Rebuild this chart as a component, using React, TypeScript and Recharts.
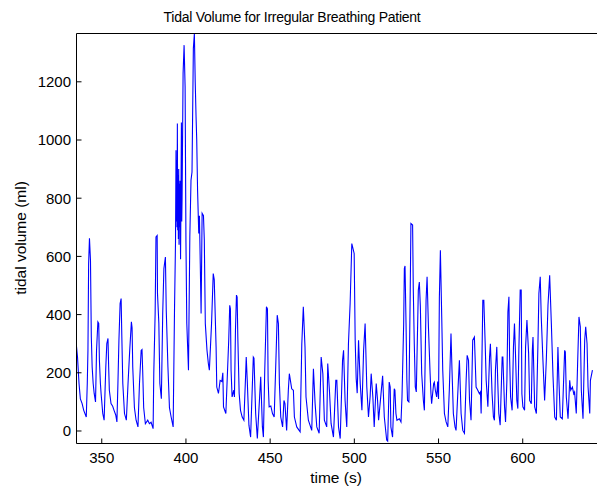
import React from 'react';
import { LineChart, Line, XAxis, YAxis, Label } from 'recharts';

// [time (s), tidal volume (ml)], split into stretches
const calmStart: [number, number][] = [
  [335.0, 290], [335.6, 254], [336.5, 163], [337.3, 110], [338.3, 95], [339.3, 71], [340.8, 48],
  [341.4, 163], [341.8, 277], [342.2, 575], [342.7, 662], [343.3, 587], [343.8, 323], [344.3, 220],
  [344.9, 163], [345.5, 129], [346.3, 100], [346.9, 277], [347.7, 375], [348.2, 370], [348.6, 243],
  [349.2, 163], [349.6, 129], [350.6, 60], [351.4, 37], [352.4, 220], [353.0, 300], [353.7, 318],
  [354.1, 220], [354.5, 140], [355.5, 94], [356.5, 85], [357.3, 71], [358.3, 55], [359.0, 31],
  [359.6, 163], [360.2, 312], [360.9, 438], [361.5, 455], [361.9, 330], [362.5, 163], [363.5, 60],
  [364.6, 37], [365.6, 163], [366.6, 277], [367.6, 375], [368.0, 355], [368.4, 220], [369.4, 80],
  [370.4, 37], [371.5, 14], [372.4, 163], [373.4, 277], [373.9, 280], [374.3, 209], [374.9, 80],
  [375.9, 25], [377.3, 37], [378.3, 25], [379.3, 30], [380.5, 8], [380.9, 200], [381.7, 404],
  [382.2, 667], [382.9, 672], [383.1, 472], [383.9, 370], [384.5, 163], [385.4, 111], [386.2, 404],
  [386.9, 558], [387.8, 598], [388.3, 415], [389.3, 220], [390.2, 80], [391.2, 48], [392.4, 14],
  [393.2, 415], [393.8, 650],
];

const burst: [number, number][] = [
  [394.1, 965], [394.3, 720], [394.5, 930], [394.7, 700], [394.9, 1057], [395.1, 690], [395.3, 880],
  [395.5, 660], [395.7, 900], [395.9, 640], [396.1, 850], [396.3, 700], [396.5, 860], [396.8, 590],
  [397.0, 760], [397.3, 1060], [397.5, 720], [397.7, 800], [398.3, 1229], [398.9, 1326], [399.5, 1183],
  [400.0, 650], [400.5, 370], [401.0, 290], [401.5, 209], [402.3, 667], [403.0, 862], [403.6, 890],
  [404.4, 1315], [405.0, 1366], [405.5, 1200], [406.0, 1080], [406.4, 1000], [406.9, 828],
  [407.6, 679], [408.0, 740], [408.5, 576], [409.0, 404], [409.6, 748], [410.4, 740], [410.9, 656],
  [411.5, 369], [412.5, 277], [413.3, 232], [413.9, 209], [415.2, 369], [416.2, 541], [416.8, 520],
  [417.9, 289], [418.3, 151], [419.3, 129], [420.3, 174], [421.3, 170], [421.9, 200], [422.3, 83],
  [423.7, 60],
];

const recovery: [number, number][] = [
  [424.4, 164], [425.4, 312], [426.0, 432], [426.4, 420], [426.8, 209], [427.4, 117], [428.4, 140],
  [428.8, 117], [429.4, 346], [430.0, 467], [430.4, 460], [430.8, 323], [431.6, 129], [432.4, 71],
  [433.4, 48], [434.4, 37], [435.4, 186], [435.8, 254], [436.4, 174], [437.4, 20], [438.4, -21],
  [440.0, 254], [440.4, 250], [441.4, 60], [442.4, -26], [444.4, 186], [445.4, 14], [446.0, -21],
  [446.8, 209], [447.8, 427], [448.4, 420], [448.8, 174], [449.4, 83], [450.4, 86], [451.4, 60],
  [452.4, 48], [453.6, 277], [454.2, 398], [454.9, 369], [455.5, 163], [456.3, 48], [457.4, 14],
  [458.2, 105], [458.8, 94], [459.8, 2], [460.8, 140], [461.4, 197], [462.8, 145], [463.8, 140],
  [464.4, 48], [465.8, 14], [467.8, -3], [468.8, 300], [469.7, 427], [470.7, 289], [471.3, 117],
  [472.7, 37], [474.7, 2], [475.7, 214], [476.7, 94], [477.7, 14], [479.1, -8], [480.3, 254],
  [481.3, 197], [482.2, 37], [483.6, 14], [484.2, 232], [485.2, 140], [486.2, 25], [487.6, -21],
  [489.0, 174], [489.6, 174], [490.6, 14], [491.6, -26], [493.0, 243], [493.6, 277], [494.5, 105],
  [495.5, 14],
];

const middle: [number, number][] = [
  [496.5, 300], [497.5, 438], [498.5, 644], [499.9, 610], [500.5, 312], [501.1, 180], [501.7, 130],
  [502.5, 312], [503.5, 163], [504.5, 71], [505.5, 277], [506.4, 369], [507.4, 151], [508.4, 48],
  [509.4, 120], [510.0, 197], [511.0, 117], [511.8, 14], [513.0, 163], [513.8, 105], [514.4, 37],
  [515.4, 100], [516.8, 190], [517.8, 48], [519.2, -31], [519.8, -35], [520.7, 168], [521.3, 151],
  [521.7, 14], [522.7, -21], [523.7, 145], [524.1, 140], [524.7, 60], [525.3, 37], [526.7, 42],
  [527.7, 31], [528.3, 117], [529.3, 369], [529.7, 558], [530.1, 567], [530.7, 369], [531.2, 174],
  [531.6, 105], [532.4, 100], [533.2, 484], [533.6, 713], [534.6, 708], [535.0, 490], [535.6, 300],
  [536.2, 151], [536.8, 134], [538.0, 484], [538.6, 512], [539.2, 430], [540.0, 197], [541.0, 105],
  [541.6, 71], [542.6, 449], [543.2, 530], [544.0, 358], [545.0, 197], [545.5, 128], [545.9, 94],
  [547.1, 163], [547.5, 168], [548.1, 140], [548.9, 117], [549.5, 170], [550.0, 110],
];

const lateStretch: [number, number][] = [
  [550.5, 459], [551.1, 621], [551.9, 392], [552.5, 209], [553.5, 60], [554.5, 31], [555.5, 14],
  [556.4, 140], [557.4, 335], [558.0, 209], [558.8, 60], [559.8, 14], [560.4, 2], [561.8, 174],
  [562.4, 243], [563.4, 60], [564.4, 2], [565.4, -8], [566.4, 174], [567.0, 260], [567.8, 243],
  [568.4, 105], [569.3, 37], [570.3, 312], [571.3, 323], [572.3, 151], [573.3, 140], [574.3, 128],
  [574.9, 134], [575.3, 60], [576.3, 449], [576.9, 449], [577.7, 300], [578.3, 174], [579.3, 83],
  [580.3, 254], [580.8, 300], [581.8, 128], [582.6, 48], [583.2, 37], [583.8, 209], [584.6, 289],
  [585.2, 163], [585.8, 60], [586.6, 20], [587.8, 254], [588.2, 254], [589.2, 83], [589.8, 31],
  [590.6, 174], [591.2, 409], [591.8, 461], [592.2, 254], [592.8, 117], [593.7, 71], [594.5, 289],
  [595.1, 369], [595.7, 266], [596.5, 105], [597.1, 77],
];

const finalStretch: [number, number][] = [
  [597.7, 277], [598.5, 484], [599.1, 484], [599.5, 128], [600.1, 83], [601.1, 71], [601.7, 289],
  [602.5, 381], [603.5, 266], [604.1, 105], [605.1, 94], [605.7, 277], [606.1, 323], [607.1, 83],
  [608.1, 60], [609.0, 289], [609.6, 472], [610.4, 530], [611.0, 392], [612.0, 243], [613.0, 105],
  [614.0, 243], [615.0, 432], [616.0, 535], [617.0, 369], [618.0, 186], [619.0, 48], [620.0, 37],
  [620.9, 289], [621.5, 174], [622.3, 48], [623.5, 42], [624.9, 277], [625.3, 272], [625.9, 117],
  [626.9, 42], [627.9, 174], [628.5, 140], [629.5, 151], [630.3, 128], [630.8, 134], [631.8, 60],
  [632.6, 232], [633.4, 392], [634.2, 358], [634.8, 140], [635.8, 42], [636.8, 312], [637.4, 358],
  [638.2, 300], [638.8, 151], [639.8, 60], [640.2, 174], [641.4, 209],
];

const xTicks = [350, 400, 450, 500, 550, 600];
const yTicks = [0, 200, 400, 600, 800, 1000, 1200];

const chartData = [...calmStart, ...burst, ...recovery, ...middle, ...lateStretch, ...finalStretch].map(
  ([t, v]) => ({ t, v })
);

const FONT = '"Liberation Sans", Arial, Helvetica, sans-serif';
const tickStyle = { fontSize: 15, fill: '#000', fontFamily: FONT };

const App = () => {
  return (
    <div
      style={{
        position: 'absolute',
        left: 0,
        top: 0,
        width: 597,
        height: 489,
        overflow: 'hidden',
        background: '#fff',
      }}
    >
      <LineChart
        width={606}
        height={489}
        data={chartData}
        margin={{ top: 32.5, right: 6.5, bottom: 0, left: 0 }}
      >
        {/* bottom axis with labels, ticks pointing inward like MATLAB */}
        <XAxis
          xAxisId="bottom"
          dataKey="t"
          type="number"
          domain={[335, 645]}
          allowDataOverflow
          ticks={xTicks}
          interval={0}
          height={45.5}
          tickSize={-5}
          tickMargin={14}
          stroke="#000"
          tick={tickStyle}
        >
          <Label
            content={() => (
              <text x={336} y={483} textAnchor="middle" fontSize={15.5} fontFamily={FONT} fill="#000">
                time (s)
              </text>
            )}
          />
        </XAxis>
        <XAxis
          xAxisId="top"
          orientation="top"
          dataKey="t"
          type="number"
          domain={[335, 645]}
          allowDataOverflow
          ticks={xTicks}
          interval={0}
          height={1}
          tickSize={-5}
          tick={false}
          stroke="#000"
        >
          <Label
            content={() => (
              <text
                x={292}
                y={21.5}
                textAnchor="middle"
                fontSize={14}
                letterSpacing={-0.25}
                fontFamily={FONT}
                fill="#000"
              >
                Tidal Volume for Irregular Breathing Patient
              </text>
            )}
          />
        </XAxis>
        <YAxis
          yAxisId="left"
          type="number"
          domain={[-43, 1366]}
          allowDataOverflow
          ticks={yTicks}
          interval={0}
          width={76.5}
          tickSize={-5}
          tickMargin={10.5}
          stroke="#000"
          tick={tickStyle}
        >
          <Label
            content={() => (
              <text
                x={20}
                y={238}
                transform="rotate(-90 20 238)"
                textAnchor="middle"
                dominantBaseline="central"
                fontSize={15.5}
                fontFamily={FONT}
                fill="#000"
              >
                tidal volume (ml)
              </text>
            )}
          />
        </YAxis>
        <YAxis
          yAxisId="right"
          orientation="right"
          type="number"
          domain={[-43, 1366]}
          allowDataOverflow
          ticks={yTicks}
          interval={0}
          width={1}
          tickSize={-5}
          tick={false}
          stroke="#000"
        />
        <Line
          xAxisId="bottom"
          yAxisId="left"
          type="linear"
          dataKey="v"
          stroke="#0000ff"
          strokeWidth={1.1}
          dot={false}
          activeDot={false}
          isAnimationActive={false}
        />
      </LineChart>
    </div>
  );
};

export default App;
